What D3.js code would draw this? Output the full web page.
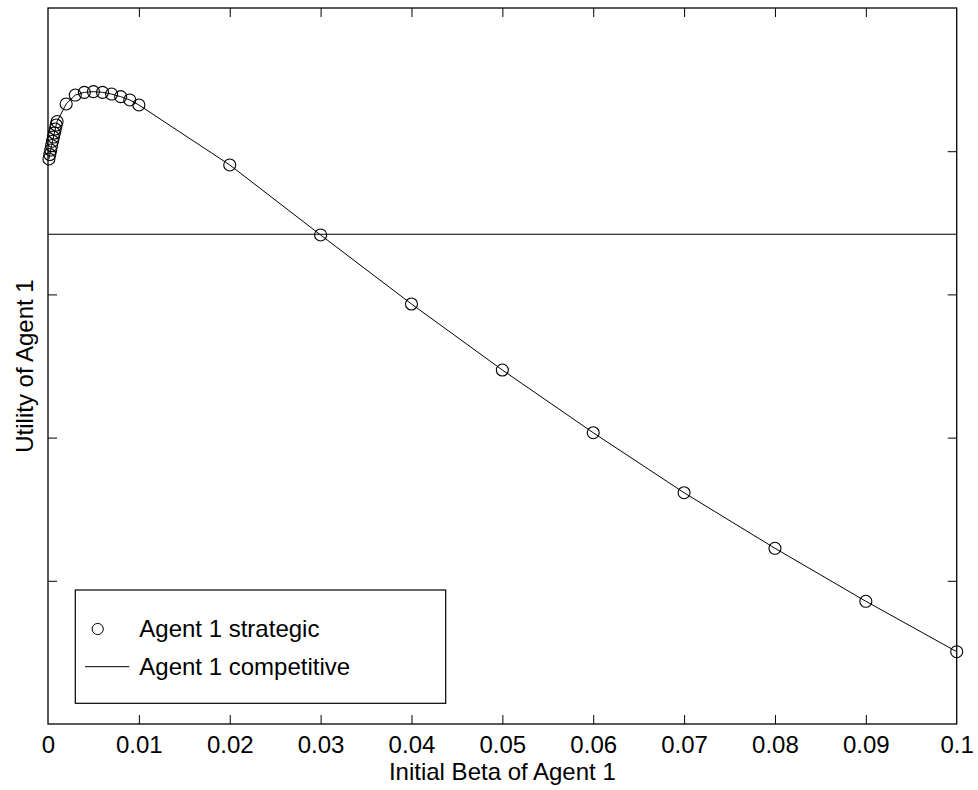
<!DOCTYPE html>
<html>
<head>
<meta charset="utf-8">
<script src="https://cdn.jsdelivr.net/npm/d3@7"></script>
<style>
  body { margin: 0; background: #fff; }
  svg { display: block; font-family: "Liberation Sans", Arial, sans-serif; }
  .tick line { stroke: #000; }
  .tick text { font-size: 24px; fill: #000; }
</style>
</head>
<body>
<div id="chart"></div>
<script>
// data (y in unlabelled utility units, 0..5)
const beta = [0.0001, 0.0002, 0.0003, 0.0004, 0.0005, 0.0006, 0.0007, 0.0008, 0.0009, 0.001,
  0.002, 0.003, 0.004, 0.005, 0.006, 0.007, 0.008, 0.009, 0.01,
  0.02, 0.03, 0.04, 0.05, 0.06, 0.07, 0.08, 0.09, 0.1];
const strategic = [3.946, 3.977, 4.008, 4.040, 4.070, 4.099, 4.127, 4.155, 4.183, 4.207,
  4.330, 4.392, 4.411, 4.416, 4.411, 4.399, 4.381, 4.358, 4.323,
  3.904, 3.415, 2.933, 2.472, 2.034, 1.615, 1.227, 0.857, 0.505];
const competitive = 3.420;

const xTicks = [0, 0.01, 0.02, 0.03, 0.04, 0.05, 0.06, 0.07, 0.08, 0.09, 0.1];
const xTickLabels = ["0", "0.01", "0.02", "0.03", "0.04", "0.05", "0.06", "0.07", "0.08", "0.09", "0.1"];
const yTicks = [1, 2, 3, 4];
const legendLabels = ["Agent 1 strategic", "Agent 1 competitive"];

// Step 1: set up chart
//=========================
const svgWidth = 978, svgHeight = 790;
const margin = { top: 8, right: 21.3, bottom: 66, left: 48 };
const width = svgWidth - margin.left - margin.right;
const height = svgHeight - margin.top - margin.bottom;

const svg = d3.select("#chart").append("svg")
  .attr("width", svgWidth)
  .attr("height", svgHeight);

const chartGroup = svg.append("g")
  .attr("transform", `translate(${margin.left}, ${margin.top})`);

// Step 2: scales
//=========================
const x = d3.scaleLinear().domain([0, 0.1]).range([0, width]);
const y = d3.scaleLinear().domain([0, 5]).range([height, 0]);

// Step 3: axes (ticks pointing inward, labels only on bottom)
//=========================
const tickLen = 9;
const fmtX = d => xTickLabels[xTicks.indexOf(d)];

chartGroup.append("g")
  .attr("transform", `translate(0, ${height})`)
  .call(d3.axisBottom(x).tickValues(xTicks).tickFormat(fmtX)
    .tickSizeInner(-tickLen).tickSizeOuter(0).tickPadding(12))
  .call(g => g.select(".domain").remove());

chartGroup.append("g")
  .call(d3.axisTop(x).tickValues(xTicks).tickFormat("")
    .tickSizeInner(-tickLen).tickSizeOuter(0))
  .call(g => g.select(".domain").remove());

chartGroup.append("g")
  .call(d3.axisLeft(y).tickValues(yTicks).tickFormat("")
    .tickSizeInner(-tickLen).tickSizeOuter(0))
  .call(g => g.select(".domain").remove());

chartGroup.append("g")
  .attr("transform", `translate(${width}, 0)`)
  .call(d3.axisRight(y).tickValues(yTicks).tickFormat("")
    .tickSizeInner(-tickLen).tickSizeOuter(0))
  .call(g => g.select(".domain").remove());

// remove end ticks that sit on the box edges
chartGroup.selectAll(".tick").filter(d => d === 0 || d === 0.1)
  .select("line").remove();

// plot box
chartGroup.append("rect")
  .attr("width", width)
  .attr("height", height)
  .attr("fill", "none")
  .attr("stroke", "#000")
  .attr("stroke-width", 1.3);

// Step 4: lines
//=========================
const pts = beta.map((b, i) => ({ beta: b, u: strategic[i] }));

chartGroup.append("line")
  .attr("x1", x(0)).attr("x2", x(0.1))
  .attr("y1", y(competitive)).attr("y2", y(competitive))
  .attr("stroke", "#000").attr("stroke-width", 1.2);

chartGroup.append("path")
  .attr("d", d3.line().x(d => x(d.beta)).y(d => y(d.u))(pts))
  .attr("fill", "none")
  .attr("stroke", "#000")
  .attr("stroke-width", 1);

chartGroup.selectAll("circle.pt")
  .data(pts)
  .enter()
  .append("circle")
  .attr("class", "pt")
  .attr("cx", d => x(d.beta))
  .attr("cy", d => y(d.u))
  .attr("r", 6)
  .attr("fill", "none")
  .attr("stroke", "#000")
  .attr("stroke-width", 1.1);

// Step 5: axis titles
//=========================
svg.append("text")
  .attr("x", margin.left + width / 2)
  .attr("y", 780)
  .attr("text-anchor", "middle")
  .attr("font-size", 24)
  .text("Initial Beta of Agent 1");

svg.append("text")
  .attr("transform", `translate(33, ${margin.top + height / 2}) rotate(-90)`)
  .attr("text-anchor", "middle")
  .attr("font-size", 24)
  .text("Utility of Agent 1");

// Step 6: legend
//=========================
const legend = svg.append("g");
legend.append("rect")
  .attr("x", 75.3).attr("y", 590)
  .attr("width", 370.4).attr("height", 113.3)
  .attr("fill", "#fff")
  .attr("stroke", "#000")
  .attr("stroke-width", 1.2);

legend.append("circle")
  .attr("cx", 97.7).attr("cy", 629)
  .attr("r", 5.6)
  .attr("fill", "none")
  .attr("stroke", "#000");

legend.append("line")
  .attr("x1", 85).attr("x2", 129.3)
  .attr("y1", 666.7).attr("y2", 666.7)
  .attr("stroke", "#000");

legend.selectAll("text")
  .data(legendLabels)
  .enter()
  .append("text")
  .attr("x", 139.3)
  .attr("y", (d, i) => [636.7, 675][i])
  .attr("font-size", 24)
  .text(d => d);
</script>
</body>
</html>
